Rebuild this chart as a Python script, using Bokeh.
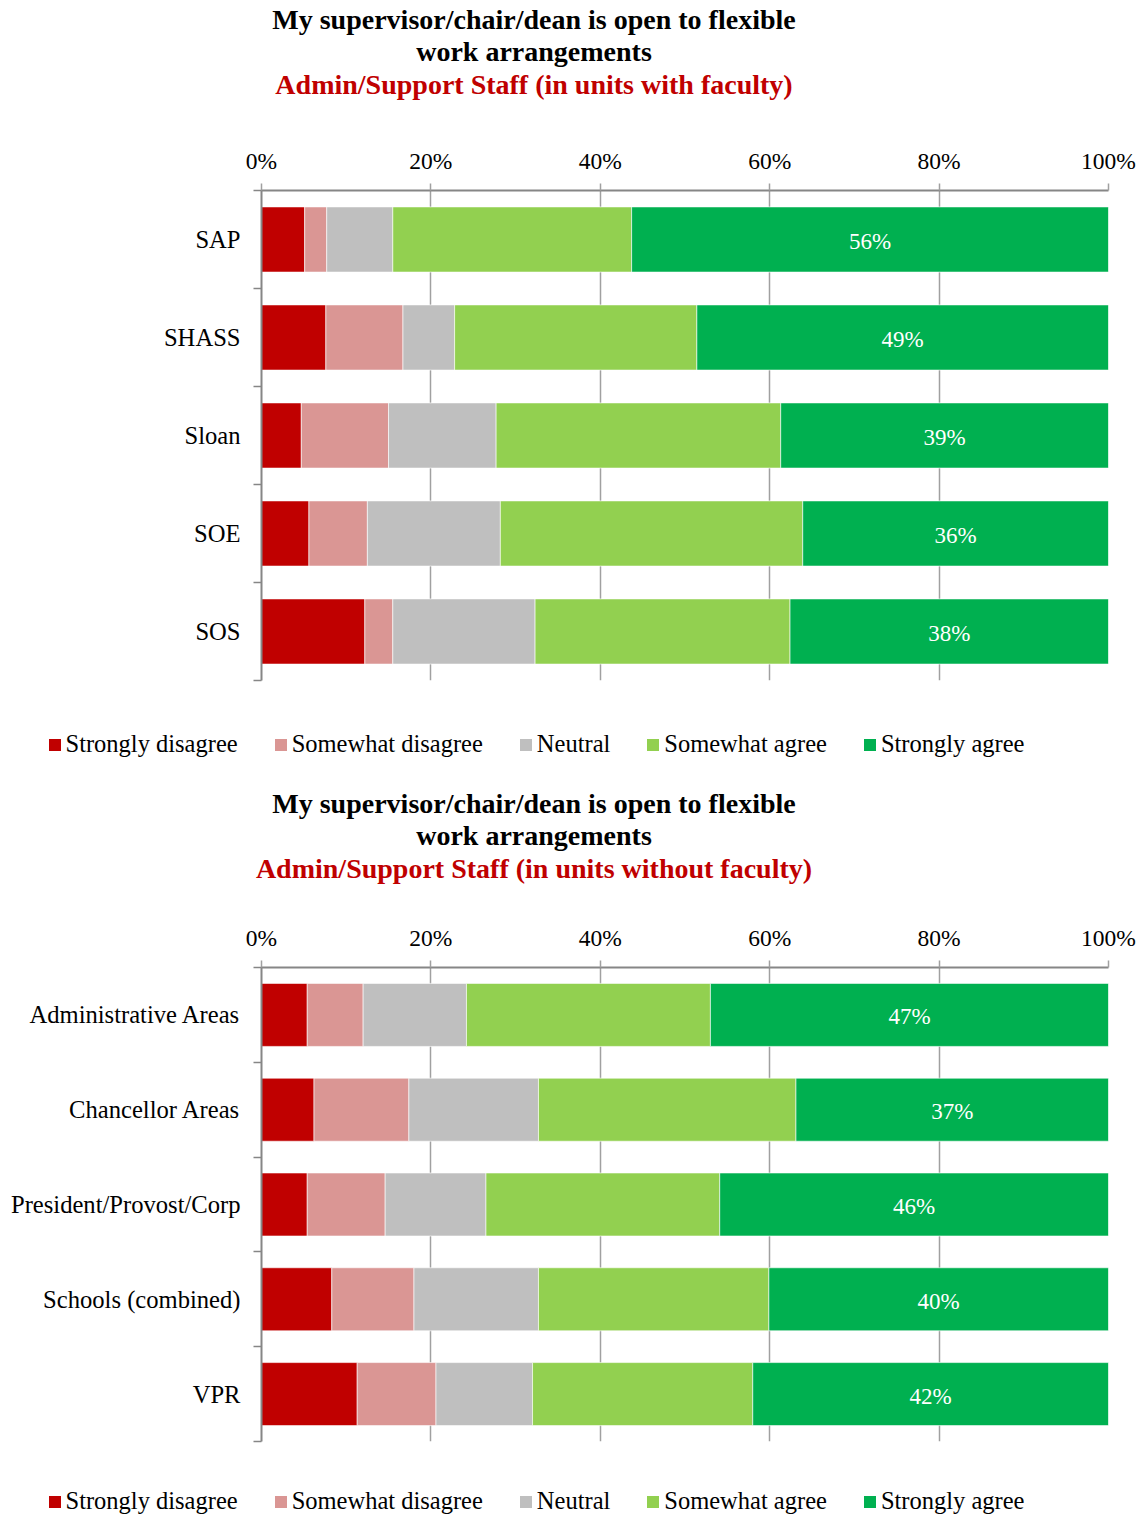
from bokeh.plotting import figure
from bokeh.models import (ColumnDataSource, Range1d, FixedTicker, PrintfTickFormatter,
                          Legend, LegendItem)
from bokeh.layouts import column
from bokeh.embed import file_html
from bokeh.resources import INLINE
from bokeh.core.properties import value

# ---------------- data ----------------
title_line1 = "My supervisor/chair/dean is open to flexible"
title_line2 = "work arrangements"
subtitle_with = "Admin/Support Staff (in units with faculty)"
subtitle_without = "Admin/Support Staff (in units without faculty)"

series = ["Strongly disagree", "Somewhat disagree", "Neutral", "Somewhat agree", "Strongly agree"]
colors = ["#C00000", "#DA9694", "#BFBFBF", "#92D050", "#00B050"]
x_ticks = [0, 20, 40, 60, 80, 100]

units_with = ["SAP", "SHASS", "Sloan", "SOE", "SOS"]
with_strongly_disagree = [5.1, 7.6, 4.7, 5.6, 12.2]
with_somewhat_disagree = [2.6, 9.1, 10.3, 6.9, 3.3]
with_neutral = [7.8, 6.1, 12.7, 15.7, 16.8]
with_somewhat_agree = [28.2, 28.6, 33.6, 35.7, 30.1]
with_strongly_agree = [56.3, 48.6, 38.7, 36.1, 37.6]

units_without = ["Administrative Areas", "Chancellor Areas", "President/Provost/Corp",
                 "Schools (combined)", "VPR"]
without_strongly_disagree = [5.4, 6.2, 5.4, 8.3, 11.3]
without_somewhat_disagree = [6.6, 11.2, 9.2, 9.7, 9.3]
without_neutral = [12.2, 15.3, 11.9, 14.7, 11.4]
without_somewhat_agree = [28.8, 30.4, 27.6, 27.2, 26.0]
without_strongly_agree = [47.0, 36.9, 45.9, 40.1, 42.0]

FONT = "Liberation Serif"
W = 1141
LEFT, RIGHT = 261, 33


def blank_fig(height):
    f = figure(width=W, height=height, x_range=Range1d(0, W), y_range=Range1d(height, 0),
               x_axis_location=None, y_axis_location=None, output_backend="svg",
               toolbar_location=None, title=None, min_border=0, frame_align=False)
    f.outline_line_color = None
    f.grid.grid_line_color = None
    return f


def title_fig(subtitle, height, ys):
    f = blank_fig(height)
    src = ColumnDataSource(dict(x=[533.5, 533.5], y=ys[:2], t=[title_line1, title_line2]))
    f.text(x="x", y="y", text="t", source=src, text_color="black",
           text_font=value(FONT), text_font_size="28px", text_font_style="bold",
           text_align="center", text_baseline="middle")
    f.text(x=[533.5], y=[ys[2]], text=[subtitle], text_color="#C00000",
           text_font=value(FONT), text_font_size="28px", text_font_style="bold",
           text_align="center", text_baseline="middle")
    return f


def legend_fig(height, center):
    f = blank_fig(height)
    # legend-only renderers: zero-size bars (nothing visible is drawn)
    rends = [f.hbar(y=[height / 2], left=[0], right=[0], height=0, color=c,
                    line_color=None) for c in colors]
    items = [LegendItem(label=s, renderers=[r]) for s, r in zip(series, rends)]
    row_h = 28
    vy = height - center - row_h / 2
    leg = Legend(items=items, orientation="horizontal", location=(46.5, vy),
                 glyph_width=15, glyph_height=15, label_standoff=4, spacing=35,
                 padding=0, margin=0, border_line_color=None, background_fill_alpha=0,
                 label_text_font=FONT, label_text_font_size="24.5px",
                 label_text_color="black", label_height=row_h)
    f.add_layout(leg)
    return f


def chart_fig(cats, vals, height, top, frame_h):
    n = len(cats)
    p = figure(width=W, height=height, x_range=Range1d(0, 100), y_range=Range1d(n, 0),
               x_axis_location="above", output_backend="svg", toolbar_location=None,
               title=None, min_border_left=LEFT, min_border_right=RIGHT,
               min_border_top=top, min_border_bottom=height - top - frame_h,
               frame_align=False)
    p.outline_line_color = None

    data = {"y": [i + 0.5 for i in range(n)]}
    for s, v in zip(series, vals):
        data[s] = v
    src = ColumnDataSource(data)
    p.hbar_stack(series, y="y", height=0.665, color=colors, source=src,
                 line_color="white", line_width=1, line_alpha=0.6)

    start = [sum(v[i] for v in vals[:4]) for i in range(n)]
    lab_src = ColumnDataSource(dict(
        x=[s + a / 2 for s, a in zip(start, vals[4])],
        y=[i + 0.5 for i in range(n)],
        t=[f"{round(a)}%" for a in vals[4]]))
    p.text(x="x", y="y", text="t", source=lab_src, text_color="white",
           text_font=value(FONT), text_font_size="23px", text_align="center",
           text_baseline="middle", y_offset=2)

    xa = p.xaxis[0]
    xa.ticker = FixedTicker(ticks=x_ticks)
    xa.formatter = PrintfTickFormatter(format="%d%%")
    xa.axis_line_color = "#868686"
    xa.axis_line_width = 2
    xa.major_tick_line_color = "#A0A0A0"
    xa.major_tick_line_width = 1.5
    xa.major_tick_in = 0
    xa.major_tick_out = 7
    xa.minor_tick_line_color = None
    xa.major_label_text_font = FONT
    xa.major_label_text_font_size = "23.5px"
    xa.major_label_text_color = "black"
    xa.major_label_standoff = 10

    ya = p.yaxis[0]
    ya.ticker = FixedTicker(ticks=[i + 0.5 for i in range(n)], minor_ticks=list(range(n + 1)))
    ya.major_label_overrides = {i + 0.5: c for i, c in enumerate(cats)}
    ya.axis_line_color = "#868686"
    ya.axis_line_width = 2
    ya.major_tick_line_color = None
    ya.major_tick_in = 0
    ya.major_tick_out = 8
    ya.minor_tick_line_color = "#868686"
    ya.minor_tick_line_width = 1.5
    ya.minor_tick_in = 0
    ya.minor_tick_out = 8
    ya.major_label_text_font = FONT
    ya.major_label_text_font_size = "24.6px"
    ya.major_label_text_color = "black"
    ya.major_label_standoff = 13

    p.xgrid.ticker = FixedTicker(ticks=x_ticks)
    p.xgrid.grid_line_color = "#A0A0A0"
    p.xgrid.grid_line_width = 1.5
    p.ygrid.grid_line_color = None
    return p


vals_with = [with_strongly_disagree, with_somewhat_disagree, with_neutral,
             with_somewhat_agree, with_strongly_agree]
vals_without = [without_strongly_disagree, without_somewhat_disagree, without_neutral,
                without_somewhat_agree, without_strongly_agree]

# page rows: 0-120 title, 120-710 chart, 710-775 legend,
#            775-900 title, 900-1471 chart, 1471-1517 legend
t1 = title_fig(subtitle_with, 120, [19, 51, 84])
c1 = chart_fig(units_with, vals_with, height=590, top=70, frame_h=490)
l1 = legend_fig(65, 34)
t2 = title_fig(subtitle_without, 125, [28, 60, 93])
c2 = chart_fig(units_without, vals_without, height=571, top=67, frame_h=474)
l2 = legend_fig(46, 30)

layout = column(t1, c1, l1, t2, c2, l2, spacing=0)
open("out.html", "w").write(file_html(layout, INLINE))
